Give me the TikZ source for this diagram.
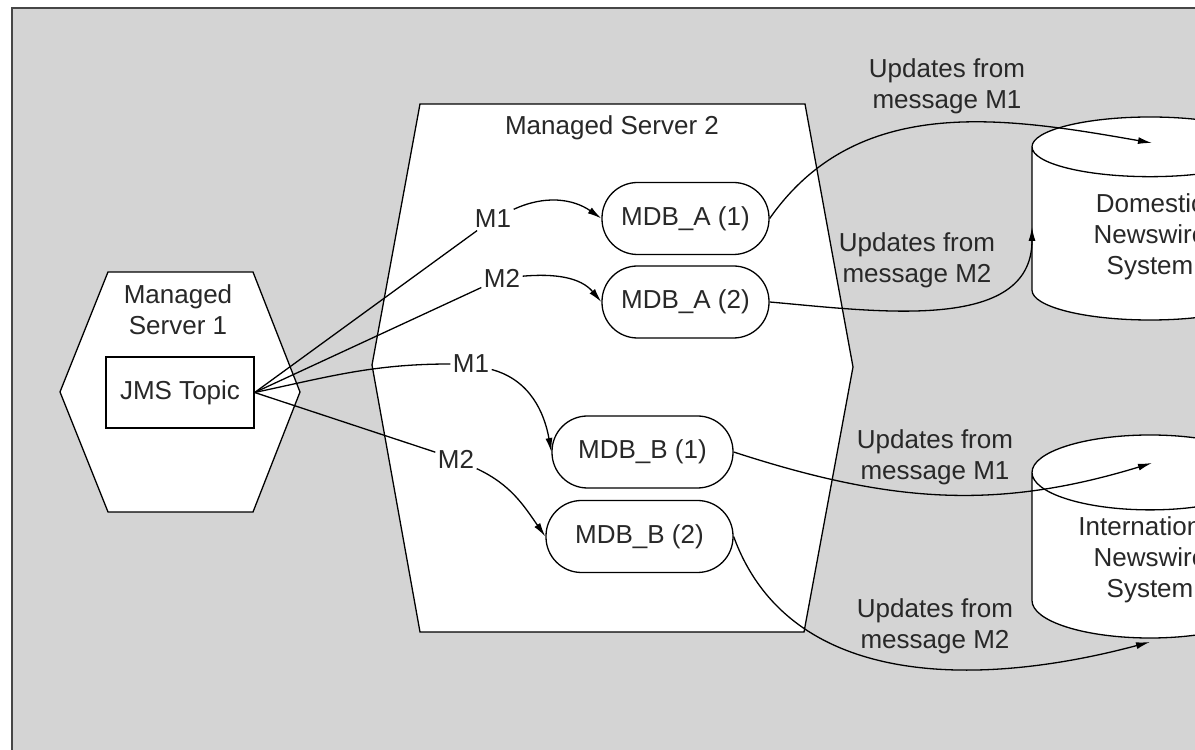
\documentclass[tikz,border=0pt]{standalone}
\usepackage{fontspec}
\setmainfont{Liberation Sans}
\usetikzlibrary{arrows.meta,positioning,shapes.geometric}

\definecolor{panelgray}{RGB}{212,212,212}
\definecolor{framegray}{RGB}{70,70,70}
\definecolor{inkgray}{RGB}{40,40,40}

\begin{document}
\begin{tikzpicture}[
    x=1pt, y=1pt,
    >={Latex[length=14pt,width=7pt]},
    line width=1.3pt,
    every node/.style={font=\fontsize{26}{31}\selectfont, text=inkgray},
    server/.style={draw, fill=white},
    topicbox/.style={draw, fill=white, minimum width=148pt, minimum height=71pt},
    mdb/.style={draw, fill=white, rounded corners=35.5pt, minimum height=72pt},
    msg/.style={inner sep=2pt},
    note/.style={align=center, inner sep=0pt},
    store/.style={draw, fill=white, cylinder, shape border rotate=90, aspect=0.5,
                  minimum width=236pt, minimum height=203pt, align=center,
                  anchor=shape center},
    flow/.style={->}
]

    % --- 1. Frame ---
    \useasboundingbox (0,0) rectangle (1195,750);
    \clip (0,0) rectangle (1195,750);
    \draw[fill=panelgray, draw=framegray, line width=2.5pt] (12,742) rectangle (1230,-30);

    % --- 2. Managed servers ---
    % Managed Server 1 (hexagon)
    \draw[server] (60,358) -- (108,478) -- (253,478) -- (300,358) -- (253,238) -- (108,238) -- cycle;
    \node (ms1) at (178,440) [align=center] {Managed\\Server 1};
    \node (jms) at (180,357.5) [topicbox] {JMS Topic};

    % Managed Server 2 (octagon)
    \draw[server] (420,646) -- (805,646) -- (853,383) -- (804,118) -- (420,118) -- (372,385) -- cycle;
    \node (ms2) at (612,622) {Managed Server 2};

    % --- 3. Message driven beans ---
    \node (mdbA1) at (685.5,531.5) [mdb, minimum width=167pt] {MDB\_A (1)};
    \node (mdbA2) at (685.5,448)   [mdb, minimum width=167pt] {MDB\_A (2)};
    \node (mdbB1) at (642.5,298)   [mdb, minimum width=181pt] {MDB\_B (1)};
    \node (mdbB2) at (639.5,213.5) [mdb, minimum width=187pt] {MDB\_B (2)};

    % message labels
    \node (m1a) at (493,531) [msg] {M1};
    \node (m2a) at (502,472) [msg] {M2};
    \node (m1b) at (471,386) [msg] {M1};
    \node (m2b) at (456,291) [msg] {M2};

    % --- 4. Newswire systems ---
    \node (dom) at (1150,531.5) [store] {Domestic\\Newswire\\System};
    \node (intl) at (1150,213.5) [store] {International\\Newswire\\System};
    \coordinate (dom-top) at (1152,607);
    \coordinate (dom-side) at (1032,523);
    \coordinate (intl-top) at (1152,287);
    \coordinate (intl-bot) at (1150,108);

    % --- 5. Topic to beans ---
    \draw (jms.east) -- (m1a);
    \draw (jms.east) -- (m2a);
    \draw (jms.east) to[out=12, in=180] (m1b);
    \draw (jms.east) -- (m2b);

    \draw[flow] (m1a) to[out=25, in=145] (mdbA1.west);
    \draw[flow] (m2a) to[out=5, in=130] (mdbA2.west);
    \draw[flow] (m1b) to[out=-15, in=100] (mdbB1.west);
    \draw[flow] (m2b) to[out=-25, in=125] (mdbB2.west);

    % --- 6. Beans to newswire systems ---
    \draw[flow] (mdbA1.east) to[out=55, in=170] (dom-top);
    \draw[flow] (mdbA2.east) to[out=-5, in=-90] (dom-side);
    \draw[flow] (mdbB1.east) to[out=-18, in=197] (intl-top);
    \draw[flow] (mdbB2.east) to[out=-70, in=195] (intl-bot);

    \node (upd1) at (947,664)   [note] {Updates from\\message M1};
    \node (upd2) at (917,489.5) [note] {Updates from\\message M2};
    \node (upd3) at (935,292.5) [note] {Updates from\\message M1};
    \node (upd4) at (935,124)   [note] {Updates from\\message M2};

\end{tikzpicture}
\end{document}
